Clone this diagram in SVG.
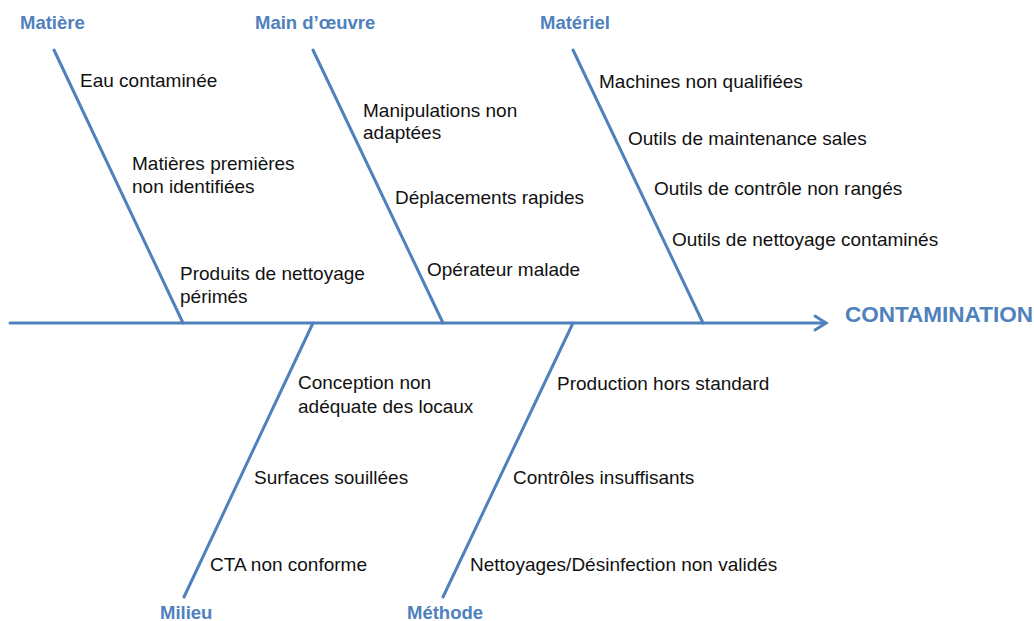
<svg xmlns="http://www.w3.org/2000/svg" width="1034" height="621" viewBox="0 0 1034 621">
<style>
.bone{stroke:#4F81BD;stroke-width:3;fill:none;stroke-linecap:round}
.cat{font-family:"Liberation Sans",Arial,sans-serif;font-weight:bold;font-size:18.5px;fill:#4F81BD}
.t{font-family:"Liberation Sans",Arial,sans-serif;font-size:19px;fill:#111}
</style>
<rect width="1034" height="621" fill="#fff"/>
<g id="connectors">
<line class="bone" x1="10" y1="323" x2="826" y2="323"/>
<polyline class="bone" points="815,316 826,323 815,330"/>
<line class="bone" x1="54" y1="50" x2="183" y2="323"/>
<line class="bone" x1="313" y1="50" x2="443" y2="323"/>
<line class="bone" x1="573" y1="50" x2="703" y2="323"/>
<line class="bone" x1="313" y1="323" x2="184" y2="597"/>
<line class="bone" x1="573" y1="323" x2="443" y2="597"/>
</g>
<g id="effect"><text class="cat" x="845" y="322" style="font-size:22.5px">CONTAMINATION</text></g>
<g id="matiere">
<text class="cat" x="20" y="29">Matière</text>
<text class="t" x="80" y="87">Eau contaminée</text>
<text class="t" x="132" y="170">Matières premières</text>
<text class="t" x="132" y="193">non identifiées</text>
<text class="t" x="180" y="280">Produits de nettoyage</text>
<text class="t" x="180" y="303">périmés</text>
</g>
<g id="main-oeuvre">
<text class="cat" x="255" y="29">Main d’œuvre</text>
<text class="t" x="363" y="117">Manipulations non</text>
<text class="t" x="363" y="139">adaptées</text>
<text class="t" x="395" y="204">Déplacements rapides</text>
<text class="t" x="427" y="276">Opérateur malade</text>
</g>
<g id="materiel">
<text class="cat" x="540" y="29">Matériel</text>
<text class="t" x="599" y="88">Machines non qualifiées</text>
<text class="t" x="628" y="145">Outils de maintenance sales</text>
<text class="t" x="654" y="195">Outils de contrôle non rangés</text>
<text class="t" x="672" y="246">Outils de nettoyage contaminés</text>
</g>
<g id="milieu">
<text class="cat" x="160" y="619">Milieu</text>
<text class="t" x="298" y="389">Conception non</text>
<text class="t" x="298" y="413">adéquate des locaux</text>
<text class="t" x="254" y="484">Surfaces souillées</text>
<text class="t" x="210" y="571">CTA non conforme</text>
</g>
<g id="methode">
<text class="cat" x="407" y="619">Méthode</text>
<text class="t" x="557" y="390">Production hors standard</text>
<text class="t" x="513" y="484">Contrôles insuffisants</text>
<text class="t" x="470" y="571">Nettoyages/Désinfection non validés</text>
</g>
</svg>
